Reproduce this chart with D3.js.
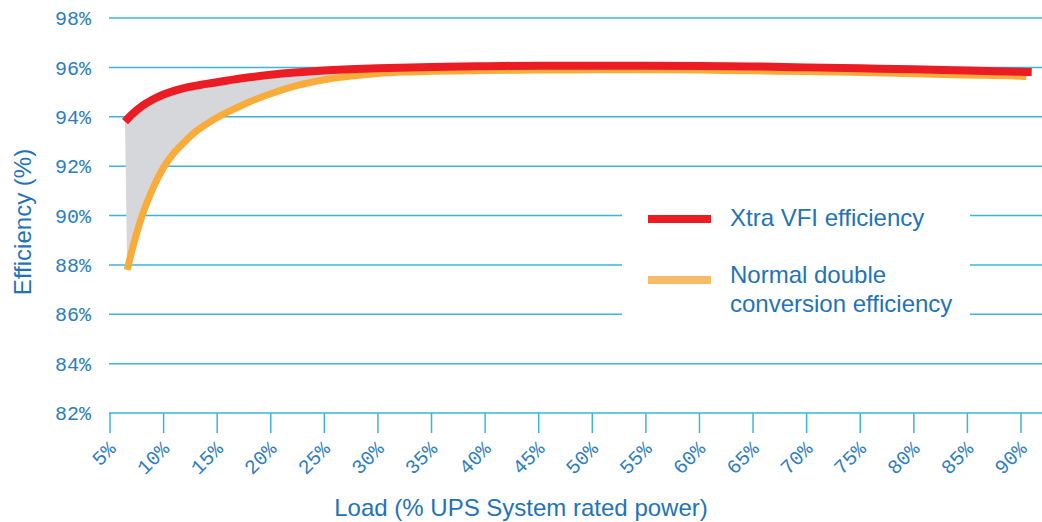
<!DOCTYPE html>
<html>
<head>
<meta charset="utf-8">
<script src="https://d3js.org/d3.v7.min.js"></script>
<style>
  body { margin: 0; background: #fff; }
  svg { display: block; }
</style>
</head>
<body>
<div class="content"></div>
<script>
// tick values
var yTicks = [82, 84, 86, 88, 90, 92, 94, 96, 98];
var xTicks = [5, 10, 15, 20, 25, 30, 35, 40, 45, 50, 55, 60, 65, 70, 75, 80, 85, 90];

// Xtra VFI efficiency (load %, efficiency %)
var vfiLoad = [6.4, 7, 8, 9, 10, 11.2, 12, 14, 16, 18, 20, 25, 30, 35, 40, 45, 50, 55, 60, 65, 70, 75, 80, 85, 90, 91];
var vfiEff  = [93.8, 94.08, 94.44, 94.7, 94.9, 95.08, 95.17, 95.33, 95.47, 95.6, 95.7, 95.87, 95.96, 96.02, 96.05, 96.07, 96.07, 96.07, 96.06, 96.04, 96.0, 95.96, 95.92, 95.87, 95.82, 95.81];

// Normal double conversion efficiency
var normLoad = [6.6, 7, 7.5, 8, 9, 10, 11, 12, 13, 14, 15, 16.5, 18, 20, 22.5, 25, 27.5, 30, 32.5, 35, 40, 45, 50, 55, 60, 65, 70, 75, 80, 85, 90, 90.5];
var normEff  = [87.8, 88.5, 89.3, 90.0, 91.1, 91.95, 92.55, 93.0, 93.4, 93.7, 93.97, 94.3, 94.6, 94.93, 95.27, 95.5, 95.65, 95.75, 95.81, 95.84, 95.87, 95.89, 95.9, 95.9, 95.89, 95.86, 95.83, 95.79, 95.74, 95.69, 95.64, 95.63];

var legendLabels = [["Xtra VFI efficiency"], ["Normal double", "conversion efficiency"]];

var W = 1042, H = 522;
var blue = "#1f73b9", grid = "#3ab6da";

var svg = d3.select(".content")
    .append("svg")
    .attr("width", W)
    .attr("height", H);

var x = d3.scaleLinear().domain([5, 90]).range([110, 1021]);
var y = d3.scaleLinear().domain([82, 98]).range([413, 18]);

var vfi = vfiLoad.map(function(d, i) { return [d, vfiEff[i]]; });
var norm = normLoad.map(function(d, i) { return [d, normEff[i]]; });

// gridlines
svg.append("g")
    .selectAll("line")
    .data(yTicks)
    .enter()
    .append("line")
    .attr("x1", 109)
    .attr("x2", W)
    .attr("y1", function(d) { return y(d); })
    .attr("y2", function(d) { return y(d); })
    .attr("stroke", grid)
    .attr("stroke-width", 1.5);

// y labels
svg.append("g")
    .selectAll("text")
    .data(yTicks)
    .enter()
    .append("text")
    .attr("x", 91)
    .attr("y", function(d) { return y(d); })
    .attr("dy", "0.36em")
    .attr("text-anchor", "end")
    .style("font-family", "'Liberation Mono', monospace")
    .style("font-size", "20px")
    .style("fill", "#2d7dbf")
    .text(function(d) { return d + "%"; });

// x tick marks
svg.append("g")
    .selectAll("line")
    .data(xTicks)
    .enter()
    .append("line")
    .attr("x1", function(d) { return x(d); })
    .attr("x2", function(d) { return x(d); })
    .attr("y1", 413)
    .attr("y2", 433)
    .attr("stroke", grid)
    .attr("stroke-width", 1.5);

// x labels
svg.append("g")
    .selectAll("text")
    .data(xTicks)
    .enter()
    .append("text")
    .attr("transform", function(d) { return "translate(" + (x(d) + 7) + ",450) rotate(-45)"; })
    .attr("text-anchor", "end")
    .style("font-family", "'Liberation Mono', monospace")
    .style("font-size", "20px")
    .style("fill", "#2d7dbf")
    .text(function(d) { return d + "%"; });

// shaded gap between the curves
var line = d3.line()
    .x(function(d) { return x(d[0]); })
    .y(function(d) { return y(d[1]); })
    .curve(d3.curveMonotoneX);

var back = line(norm.slice().reverse());
svg.append("path")
    .attr("d", line(vfi) + "L" + back.slice(1) + "Z")
    .attr("fill", "#d5d7da");

svg.append("path")
    .datum(norm)
    .attr("fill", "none")
    .attr("stroke", "#f9ac3a")
    .attr("stroke-width", 7)
    .attr("d", line);

svg.append("path")
    .datum(vfi)
    .attr("fill", "none")
    .attr("stroke", "#ec1c24")
    .attr("stroke-width", 8)
    .attr("d", line);

// legend (white box hides gridlines behind it)
var legend = svg.append("g");
legend.append("rect")
    .attr("x", 622).attr("y", 195)
    .attr("width", 348).attr("height", 130)
    .attr("fill", "#fff");

var legendColors = ["#ec1c24", "#f6bb64"];
var legendY = [219, 280];
legendLabels.forEach(function(lines, i) {
    legend.append("line")
        .attr("x1", 648).attr("x2", 711)
        .attr("y1", legendY[i]).attr("y2", legendY[i])
        .attr("stroke", legendColors[i])
        .attr("stroke-width", 8);
    var t = legend.append("text")
        .attr("x", 730)
        .attr("y", i === 0 ? 226 : 283)
        .style("font-family", "'Liberation Sans', Arial, sans-serif")
        .style("font-size", "24px")
        .style("fill", blue);
    lines.forEach(function(s, j) {
        t.append("tspan").attr("x", 730).attr("dy", j === 0 ? 0 : 29).text(s);
    });
});

// axis titles
svg.append("text")
    .attr("transform", "translate(31,222) rotate(-90)")
    .attr("text-anchor", "middle")
    .style("font-family", "'Liberation Sans', Arial, sans-serif")
    .style("font-size", "24px")
    .style("fill", blue)
    .text("Efficiency (%)");

svg.append("text")
    .attr("x", 521)
    .attr("y", 516)
    .attr("text-anchor", "middle")
    .style("font-family", "'Liberation Sans', Arial, sans-serif")
    .style("font-size", "24px")
    .style("fill", blue)
    .text("Load (% UPS System rated power)");
</script>
</body>
</html>
